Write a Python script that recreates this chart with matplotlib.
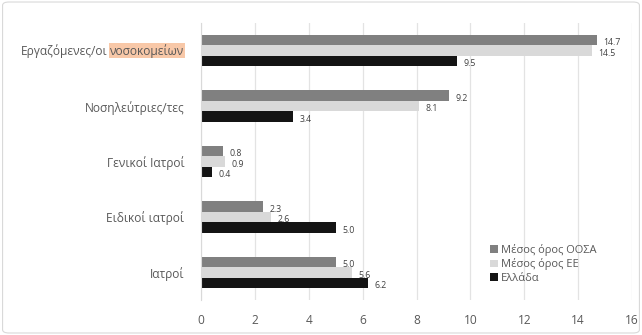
import matplotlib
matplotlib.use("Agg")
import matplotlib.pyplot as plt
import matplotlib.transforms as mtransforms
from matplotlib.patches import FancyBboxPatch
import numpy as np

plt.rcParams['font.family'] = ['Open Sans', 'DejaVu Sans']

categories = ['Εργαζόμενες/οι νοσοκομείων', 'Νοσηλεύτριες/τες', 'Γενικοί Ιατροί',
              'Ειδικοί ιατροί', 'Ιατροί']
oecd = [14.7, 9.2, 0.8, 2.3, 5.0]
eu = [14.5, 8.1, 0.9, 2.6, 5.6]
greece = [9.5, 3.4, 0.4, 5.0, 6.2]
series_names = ['Μέσος όρος ΟΟΣΑ', 'Μέσος όρος ΕΕ', 'Ελλάδα']
xticks = [0, 2, 4, 6, 8, 10, 12, 14, 16]

colors = ['#808080', '#d9d9d9', '#141414']
text_col = '#595959'

fig = plt.figure(figsize=(6.42, 3.35), dpi=100)
ax = fig.add_axes([201 / 642, 1 - 300 / 335, 431 / 642, 277 / 335])

y = np.arange(len(categories))
h = 0.19
offsets = [-h, 0, h]
for vals, off, c, name in zip([oecd, eu, greece], offsets, colors, series_names):
    ax.barh(y + off, vals, height=h, color=c, label=name, zorder=2)
    for yy, v in zip(y + off, vals):
        ax.text(v + 0.25, yy + 0.05, f'{v:.1f}', fontsize=6.3, color='#404040',
                va='center', ha='left')

ax.set_xlim(0, 16)
ax.set_ylim(len(categories) - 0.5, -0.5)
ax.set_xticks(xticks)
ax.set_yticks(y)
# first label is drawn by hand below, so the last word can get its highlight
ax.set_yticklabels([''] + categories[1:])
ax.grid(axis='x', color='#e3e3e3', linewidth=0.9, zorder=0)
ax.set_axisbelow(True)
for s in ['top', 'right', 'bottom']:
    ax.spines[s].set_visible(False)
ax.spines['left'].set_color('#d9d9d9')
ax.tick_params(axis='both', length=0, labelsize=8.6, labelcolor=text_col)
ax.tick_params(axis='y', pad=12)
ax.tick_params(axis='x', pad=10)

first, last = categories[0].rsplit(' ', 1)
trans = ax.get_yaxis_transform() + mtransforms.ScaledTranslation(-12 / 72, 0, fig.dpi_scale_trans)
hl = ax.text(0, 0, last, transform=trans, ha='right', va='center',
             fontsize=8.6, color=text_col, clip_on=False, zorder=5,
             bbox=dict(boxstyle='square,pad=0.05', facecolor='#f8c8a8', edgecolor='none'))
fig.canvas.draw()
w_px = hl.get_window_extent().width + 3
trans2 = ax.get_yaxis_transform() + mtransforms.ScaledTranslation(-12 / 72 - w_px / fig.dpi, 0,
                                                                   fig.dpi_scale_trans)
ax.text(0, 0, first, transform=trans2, ha='right', va='center',
        fontsize=8.6, color=text_col, clip_on=False)

leg = ax.legend(loc='center left', bbox_to_anchor=(0.66, 0.13), frameon=False,
                fontsize=8, handlelength=0.7, handleheight=0.7, handletextpad=0.3,
                labelspacing=0.25, borderaxespad=0)
for t in leg.get_texts():
    t.set_color(text_col)

border = FancyBboxPatch((0.004, 0.006), 0.992, 0.988, boxstyle='round,pad=0,rounding_size=0.01',
                        transform=fig.transFigure, facecolor='none', edgecolor='#d9d9d9',
                        linewidth=0.8)
fig.patches.append(border)

fig.savefig('out.png', dpi=100)
